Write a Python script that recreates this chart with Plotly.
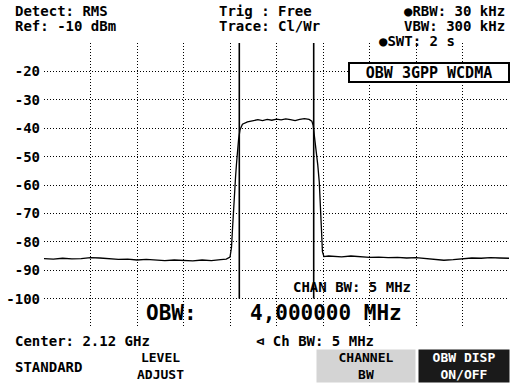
import plotly.graph_objects as go

# ---------------- data ----------------
center_mhz = 2120.0
span_mhz = 25.0
obw_mhz = 4.0
y_ticks = [-110, -100, -90, -80, -70, -60, -50, -40, -30, -20, -10]
y_ticktext = ["", "-100", "-90", "-80", "-70", "-60", "-50", "-40", "-30", "-20", ""]

freq_offset_mhz = [
    -12.5, -12.0, -11.5, -11.0, -10.5, -10.0, -9.5, -9.0, -8.5, -8.0,
    -7.5, -7.0, -6.5, -6.0, -5.5, -5.0, -4.5, -4.0, -3.5, -3.0,
    -2.7, -2.5, -2.42, -2.37, -2.31, -2.26, -2.20, -2.15, -2.10, -2.04,
    -1.96, -1.83, -1.56, -1.29, -1.0, -0.75, -0.5, -0.25, 0.0, 0.25,
    0.5, 0.75, 1.0, 1.25, 1.5, 1.75, 1.9, 1.97, 2.02, 2.08,
    2.15, 2.22, 2.30, 2.36, 2.42, 2.47, 2.55, 2.8, 3.0, 3.5,
    4.0, 4.5, 5.0, 5.5, 6.0, 6.5, 7.0, 7.5, 8.0, 8.5,
    9.0, 9.5, 10.0, 10.5, 11.0, 11.5, 12.0, 12.5,
]
level_dbm = [
    -85.9, -86.1, -85.8, -86.0, -85.9, -85.6, -85.7, -86.0, -86.2, -86.1,
    -86.4, -86.2, -86.3, -86.6, -86.4, -86.5, -86.7, -86.4, -86.6, -86.3,
    -86.1, -85.4, -82.0, -76.0, -68.0, -62.0, -57.0, -52.5, -48.0, -44.0,
    -40.5, -38.6, -37.8, -37.4, -37.0, -37.3, -36.9, -37.2, -36.8, -37.1,
    -36.7, -37.0, -37.3, -36.9, -36.6, -36.9, -37.5, -39.0, -41.5, -45.0,
    -49.0, -53.0, -59.0, -66.0, -76.0, -83.5, -85.2, -85.0, -85.1, -85.3,
    -85.0, -85.2, -85.5, -85.4, -85.6, -85.5, -85.7, -85.6, -85.9, -86.2,
    -86.5, -86.3, -85.9, -85.7, -85.8, -85.6, -85.7, -85.8,
]

freq_mhz = [center_mhz + f for f in freq_offset_mhz]
obw_lines_mhz = [center_mhz - obw_mhz / 2, center_mhz + obw_mhz / 2]
x_grid = [center_mhz - span_mhz / 2 + i * span_mhz / 10 for i in range(11)]

# ---------------- figure ----------------
W, H = 514, 383
L, R, T, B = 44, 5, 43, 56
PW, PH = W - L - R, H - T - B
FONT = "DejaVu Sans Mono"


def px(x):
    return (x - L) / PW


def py(y):
    return (H - B - y) / PH


fig = go.Figure()

for xv in obw_lines_mhz:
    fig.add_trace(go.Scatter(x=[xv, xv], y=[-10, -100], mode="lines",
                             line=dict(color="black", width=1.6),
                             hoverinfo="skip", showlegend=False))

fig.add_trace(go.Scatter(x=freq_mhz, y=level_dbm, mode="lines",
                         line=dict(color="black", width=1.3),
                         showlegend=False))

anns = []


def ann(text, x, y, size=14, xanchor="left", yanchor="middle", color="black", **kw):
    anns.append(dict(text="<b>" + text.replace("<br>", "</b><br><b>") + "</b>",
                     x=px(x), y=py(y), xref="paper", yref="paper",
                     xanchor=xanchor, yanchor=yanchor, showarrow=False,
                     font=dict(family=FONT, size=size, color=color), **kw))


ann("Detect: RMS", 13, 11)
ann("Ref: -10 dBm", 13, 26)
ann("Trig : Free", 217, 11)
ann("Trace: Cl/Wr", 217, 26)
ann("●RBW: 30 kHz", 507, 11, xanchor="right")
ann("VBW: 300 kHz", 507, 26, xanchor="right")
ann("●SWT: 2 s", 377, 41)
ann("OBW 3GPP WCDMA", 429, 72, size=15, bgcolor="white", bordercolor="black",
    borderwidth=2, borderpad=1, xanchor="center", width=156, height=15)
ann("CHAN BW: 5 MHz", 352, 287, size=14, xanchor="center")
ann("OBW:", 144, 313, size=21)
ann("4,000000 MHz", 248, 313, size=21)
ann("Center: 2.12 GHz", 13, 341)
ann("⊲ Ch BW: 5 MHz", 254, 341)
ann("STANDARD", 13, 367)
ann("LEVEL<br>ADJUST", 160, 366, xanchor="center", size=13)
ann("CHANNEL<br>BW", 366, 366, xanchor="center", size=13, bgcolor="#d4d4d4",
    width=96, height=30)
ann("OBW DISP<br>ON/OFF", 464, 366, xanchor="center", size=13, color="white",
    bgcolor="#1a1a1a", width=88, height=30)

fig.update_layout(
    width=W, height=H,
    margin=dict(l=L, r=R, t=T, b=B),
    paper_bgcolor="white", plot_bgcolor="white",
    annotations=anns,
    xaxis=dict(range=[center_mhz - span_mhz / 2, center_mhz + span_mhz / 2],
               tickvals=x_grid, showticklabels=False, ticks="",
               showgrid=True, gridcolor="black", gridwidth=1, griddash="1px,2px",
               zeroline=False, showline=False, fixedrange=True),
    yaxis=dict(range=[-110, -10], tickvals=y_ticks,
               ticktext=["<b>%s</b>" % t if t else "" for t in y_ticktext],
               ticks="", ticklabelstandoff=3, automargin=False,
               tickfont=dict(family=FONT, size=14, color="black"),
               showgrid=True, gridcolor="black", gridwidth=1, griddash="1px,2px",
               zeroline=False, showline=False, fixedrange=True),
)

fig.write_html("out.html",
               config={"displayModeBar": False},
               post_script="document.body.style.margin='0px';"
                           "document.body.style.overflow='hidden';")
